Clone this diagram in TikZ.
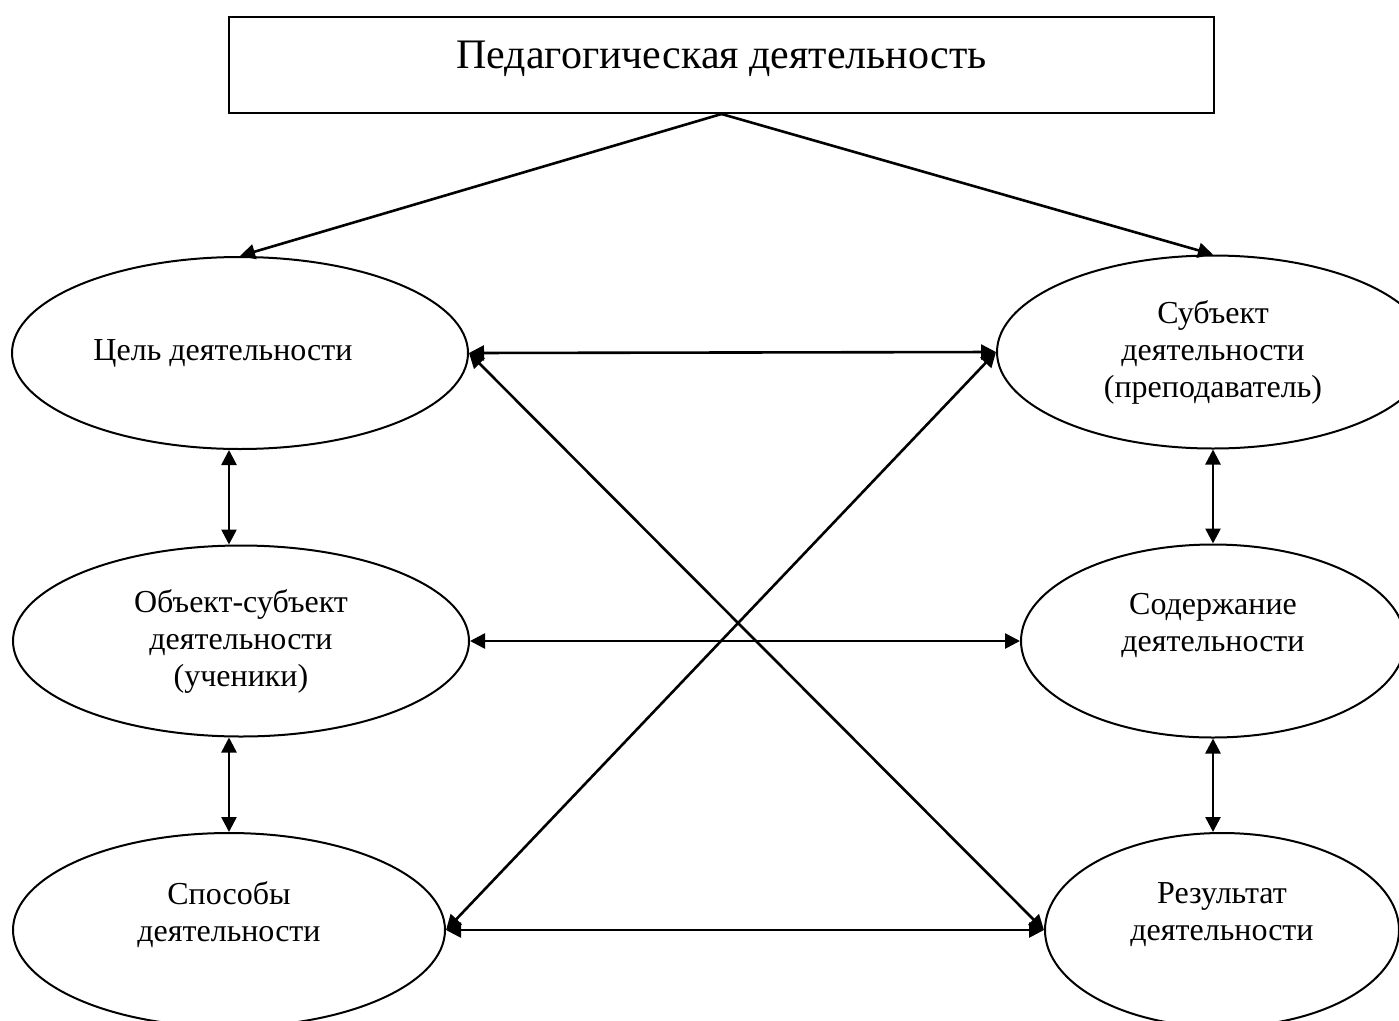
\documentclass[tikz,border=0pt]{standalone}
\usepackage{fontspec}
\setmainfont{Liberation Serif}
\usetikzlibrary{arrows.meta,shapes.geometric}
\tikzset{
    activityEllipse/.style={ellipse, draw, line width=2pt, inner sep=0pt, align=center, font=\fontsize{32}{37}\selectfont},
    linkArrow/.style={line width=2.6pt, {Triangle[length=15pt,width=15pt]}-{Triangle[length=15pt,width=15pt]}},
    mainArrow/.style={line width=2.6pt, -{Triangle[length=15pt,width=15pt]}}
}
\begin{document}
\begin{tikzpicture}[x=1pt,y=-1pt]
            \useasboundingbox (0,0) rectangle (1399,1020);
            \clip (0,0) rectangle (1399,1020);
            \node[draw, line width=2pt, minimum width=985pt, minimum height=96pt, inner sep=0pt, text height=30pt, text depth=24pt, font=\fontsize{42}{50}\selectfont] (pedActivity) at (721.5,65) {Педагогическая деятельность};
            \node[activityEllipse, minimum width=456pt, minimum height=192pt] (goal) at (240,353) {Цель деятельности\hspace{34pt}};
            \node[activityEllipse, minimum width=456pt, minimum height=191pt] (learners) at (241,641) {Объект-субъект\\деятельности\\(ученики)};
            \node[activityEllipse, minimum width=432pt, minimum height=194pt] (methods) at (229,930) {Способы\\деятельности\\\mbox{}};
            \node[activityEllipse, minimum width=432pt, minimum height=193pt] (teacher) at (1213,352) {Субъект\\деятельности\\(преподаватель)};
            \node[activityEllipse, minimum width=384pt, minimum height=193pt] (content) at (1213,641) {Содержание\\деятельности\\\mbox{}};
            \node[activityEllipse, minimum width=354pt, minimum height=194pt] (result) at (1222,930) {Результат\\деятельности\\\mbox{}};
            \draw[mainArrow] (pedActivity.south) -- (goal.north);
            \draw[mainArrow] (pedActivity.south) -- (teacher.north);
            \draw[linkArrow] (goal.east) -- (teacher.west);
            \draw[linkArrow] (goal.east) -- (result.west);
            \draw[linkArrow] (methods.east) -- (teacher.west);
            \draw[linkArrow] (learners.east) -- (content.west);
            \draw[linkArrow] (methods.east) -- (result.west);
            \draw[linkArrow] (methods.north |- goal.south) -- (methods.north |- learners.north);
            \draw[linkArrow] (methods.north |- learners.south) -- (methods.north);
            \draw[linkArrow] (teacher.south) -- (content.north);
            \draw[linkArrow] (content.south) -- (content.south |- result.north);
        \end{tikzpicture}
\end{document}
